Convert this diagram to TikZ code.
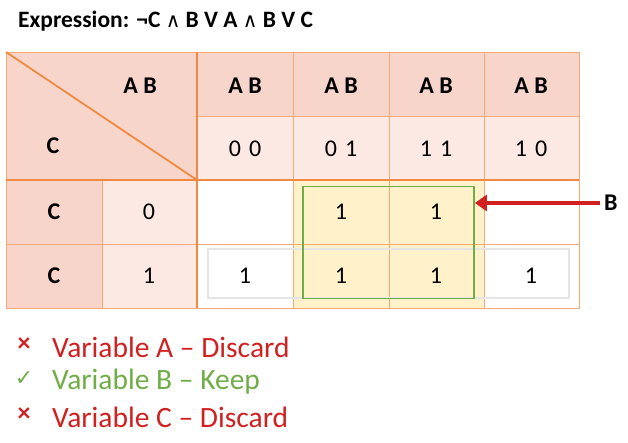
\documentclass[tikz,border=0pt]{standalone}
\usepackage{fontspec}
\setmainfont{Carlito}
\newfontfamily\dv{DejaVu Sans}
\usetikzlibrary{arrows.meta}
\definecolor{hdark}{HTML}{F8D5CB}
\definecolor{hlight}{HTML}{FCE9E3}
\definecolor{oline}{HTML}{F6A877}
\definecolor{othick}{HTML}{F08A40}
\definecolor{yel}{HTML}{FFF1C9}
\definecolor{grn}{HTML}{70AD47}
\definecolor{rd}{HTML}{D02020}
\tikzset{
 hdr/.style={font=\fontsize{24}{26}\selectfont\bfseries},
 num/.style={font=\fontsize{24}{26}\selectfont},
 item/.style={anchor=west,font=\fontsize{29.5}{31}\selectfont,inner sep=0pt},
}
\begin{document}
\begin{tikzpicture}[x=1pt,y=-1pt]
\useasboundingbox (0,0) rectangle (628,442);
% fills
\fill[hdark] (6,52) rectangle (579,116);
\fill[hlight] (197,116) rectangle (579,180);
\fill[hdark] (6,52) rectangle (197,180);
\fill[hdark] (6,180) rectangle (102,308);
\fill[hlight] (102,180) rectangle (197,308);
\fill[yel] (293,180) rectangle (484,308);
% thin lines
\draw[oline, line width=1pt] (6,52) rectangle (579,308);
\foreach \x in {293,389,484} \draw[oline, line width=1pt] (\x,52) -- (\x,308);
\draw[oline, line width=1pt] (197,116) -- (579,116);
\draw[oline, line width=1pt] (6,244) -- (579,244);
\draw[oline, line width=1pt] (102,180) -- (102,308);
% thick lines
\draw[othick, line width=2pt] (197,52) -- (197,308);
\draw[othick, line width=2pt] (6,180) -- (579,180);
\draw[othick, line width=1.8pt] (6,52) -- (197,180);
% gray group
\draw[gray!20, line width=1.4pt] (208,249) rectangle (569,298);
% green group
\node (grp) [draw=grn, line width=1.8pt, minimum width=171pt, minimum height=112pt, inner sep=0pt] at (388.5,242.5) {};
% title
\node (title) [anchor=west, font=\fontsize{23.5}{25}\selectfont\bfseries, inner sep=0pt] at (18,21) {Expression: ¬C {\dv\mdseries\fontsize{20}{22}\selectfont ∧} B V A {\dv\mdseries\fontsize{20}{22}\selectfont ∧} B V C};
% headers
\node (hab) [hdr] at (140,86) {A B};
\node (hc) [hdr] at (53,146) {C};
\node (c1) [hdr] at (245,86) {A B};
\node (c2) [hdr] at (341,86) {A B};
\node (c3) [hdr] at (436,86) {A B};
\node (c4) [hdr] at (531,86) {A B};
\node (g1) [num] at (245,149) {0\,\,0};
\node (g2) [num] at (341,149) {0\,\,1};
\node (g3) [num] at (436,149) {1\,\,1};
\node (g4) [num] at (531,149) {1\,\,0};
\node (r0) [hdr] at (54,212) {C};
\node (r1) [hdr] at (54,276) {C};
\node (v0) [num] at (149,212) {0};
\node (v1) [num] at (149,276) {1};
\node (a) [num] at (341,212) {1};
\node (b) [num] at (436,212) {1};
\node (c) [num] at (245,276) {1};
\node (d) [num] at (341,276) {1};
\node (e) [num] at (436,276) {1};
\node (f) [num] at (531,276) {1};
% arrow
\node (lb) [hdr, anchor=west, inner sep=0pt] at (604,203) {B};
\coordinate (as) at (600,203);
\draw[rd, line width=3.5pt, -{Triangle[length=12pt,width=16pt]}] (as) -- (grp.east |- as);
% bullets
\node (x1) [rd, font=\fontsize{26}{26}\selectfont\bfseries] at (24,345) {×};
\node (t1) [item, text=rd] at (52,347) {Variable A – Discard};
\node (x2) [grn, font=\dv\fontsize{22}{22}\selectfont] at (24,379) {✓};
\node (t2) [item, text=grn] at (52,382) {Variable B – Keep};
\node (x3) [rd, font=\fontsize{26}{26}\selectfont\bfseries] at (24,415) {×};
\node (t3) [item, text=rd] at (52,417) {Variable C – Discard};
\end{tikzpicture}
\end{document}
